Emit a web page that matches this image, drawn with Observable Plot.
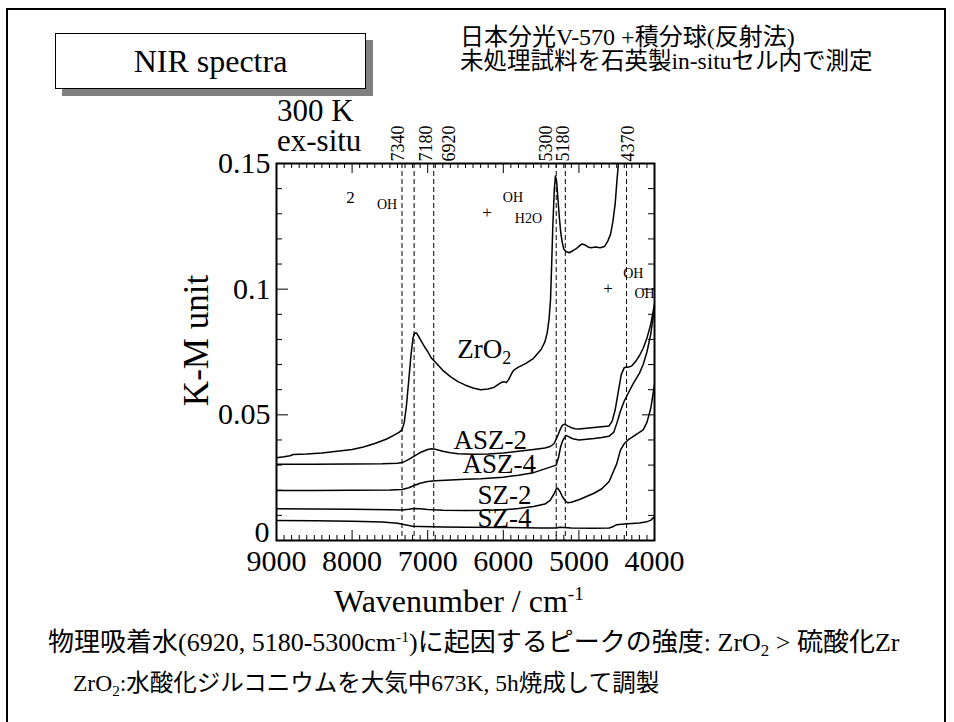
<!DOCTYPE html>
<html><head><meta charset="utf-8">
<script src="https://cdn.jsdelivr.net/npm/d3@7"></script>
<script src="https://cdn.jsdelivr.net/npm/@observablehq/plot@0.6"></script>
<style>
html,body{margin:0;padding:0;background:#fff;}
#page{position:relative;width:954px;height:722px;overflow:hidden;font-family:"Liberation Serif","Noto Sans CJK JP",serif;color:#000;}
.abs{position:absolute;white-space:nowrap;line-height:1;}
.lat{font-family:"Liberation Serif",serif;}
.sup{font-size:0.6em;position:relative;top:-0.6em;}
.sub{font-size:0.65em;position:relative;top:0.3em;}
</style></head><body>
<div id="page">
  <div style="position:absolute;left:6px;top:8px;width:936px;height:760px;border:2px solid #000;"></div>
  <div id="chart" style="position:absolute;left:0;top:0;"></div>
  <div class="abs" style="left:55px;top:33px;width:309px;height:54px;border:1px solid #000;background:#fff;box-shadow:7px 7px 0 #808080;display:flex;align-items:center;justify-content:center;font-size:32px;">NIR spectra</div>
  <div class="abs" style="left:460px;top:25px;font-size:24px;">日本分光<span class="lat">V-570 +</span>積分球<span class="lat">(</span>反射法<span class="lat">)</span></div>
  <div class="abs" style="left:460px;top:50px;font-size:23.5px;">未処理試料を石英製<span class="lat">in-situ</span>セル内で測定</div>
  <div class="abs" style="left:277px;top:95px;font-size:31px;">300 K</div>
  <div class="abs" style="left:277px;top:125px;font-size:31px;">ex-situ</div>
  <div class="abs" style="left:334px;top:585px;font-size:32px;">Wavenumber / cm<span class="sup">-1</span></div>
  <div class="abs" style="left:96px;top:323px;width:200px;text-align:center;font-size:35px;transform:rotate(-90deg);">K-M unit</div>
  <div class="abs" style="left:48px;top:630px;font-size:26px;">物理吸着水<span class="lat">(6920, 5180-5300cm<span class="sup">-1</span>)</span>に起因するピークの強度<span class="lat">: ZrO<span class="sub">2</span> &gt; </span>硫酸化<span class="lat">Zr</span></div>
  <div class="abs" style="left:73px;top:672px;font-size:23.5px;"><span class="lat">ZrO<span class="sub">2</span>:</span>水酸化ジルコニウムを大気中<span class="lat">673K, 5h</span>焼成して調製</div>
</div>
<script>
// ---- data: [wavenumber (cm-1), K-M value] ----
const zro2 = [[9000,0.0329],[8900,0.0333],[8820,0.0337],[8780,0.0342],[8600,0.0344],[8400,0.0348],[8200,0.0355],[8000,0.0362],[7850,0.0372],[7700,0.0386],[7550,0.0403],[7450,0.0418],[7380,0.0430],[7340,0.0440],[7310,0.0470],[7280,0.0540],[7250,0.0640],[7220,0.0740],[7195,0.0805],[7175,0.0825],[7150,0.0826],[7120,0.0812],[7080,0.0790],[7040,0.0770],[7000,0.0752],[6950,0.0725],[6900,0.0710],[6800,0.0677],[6700,0.0652],[6600,0.0632],[6500,0.0618],[6400,0.0607],[6300,0.0600],[6200,0.0603],[6120,0.0610],[6060,0.0622],[6020,0.0630],[5990,0.0632],[5960,0.0628],[5930,0.0640],[5880,0.0670],[5850,0.0680],[5800,0.0690],[5700,0.0705],[5600,0.0725],[5500,0.0760],[5450,0.0790],[5420,0.0825],[5395,0.0880],[5375,0.0960],[5360,0.1100],[5345,0.1250],[5325,0.1400],[5310,0.1450],[5295,0.1430],[5280,0.1370],[5260,0.1290],[5240,0.1225],[5220,0.1185],[5200,0.1160],[5170,0.1150],[5130,0.1145],[5080,0.1153],[5040,0.1160],[5000,0.1170],[4960,0.1180],[4920,0.1176],[4880,0.1168],[4840,0.1165],[4780,0.1168],[4720,0.1165],[4660,0.1170],[4620,0.1190],[4580,0.1220],[4550,0.1270],[4520,0.1340],[4500,0.1420],[4480,0.1490],[4460,0.1560],[4440,0.1650]];
const asz2 = [[9000,0.0303],[8500,0.0303],[8000,0.0304],[7600,0.0305],[7400,0.0307],[7340,0.0310],[7280,0.0318],[7200,0.0332],[7100,0.0350],[7000,0.0362],[6950,0.0365],[6900,0.0363],[6800,0.0355],[6700,0.0349],[6600,0.0345],[6400,0.0343],[6200,0.0344],[6000,0.0348],[5800,0.0355],[5600,0.0362],[5450,0.0368],[5380,0.0374],[5330,0.0385],[5290,0.0410],[5250,0.0440],[5220,0.0458],[5190,0.0463],[5150,0.0456],[5100,0.0449],[5050,0.0445],[5000,0.0444],[4900,0.0447],[4800,0.0450],[4700,0.0453],[4600,0.0456],[4560,0.0475],[4520,0.0520],[4480,0.0590],[4440,0.0660],[4400,0.0688],[4340,0.0690],[4300,0.0695],[4250,0.0712],[4200,0.0735],[4150,0.0765],[4100,0.0805],[4050,0.0860],[4000,0.0940]];
const asz4 = [[9000,0.0199],[8500,0.0199],[8000,0.0200],[7500,0.0201],[7340,0.0203],[7250,0.0210],[7180,0.0219],[7100,0.0228],[7000,0.0235],[6900,0.0238],[6700,0.0241],[6500,0.0244],[6300,0.0246],[6000,0.0252],[5800,0.0260],[5600,0.0270],[5450,0.0285],[5350,0.0295],[5300,0.0300],[5270,0.0330],[5240,0.0375],[5210,0.0400],[5170,0.0418],[5130,0.0412],[5080,0.0405],[5000,0.0400],[4900,0.0403],[4800,0.0406],[4700,0.0410],[4600,0.0415],[4540,0.0430],[4500,0.0465],[4450,0.0515],[4400,0.0555],[4350,0.0585],[4280,0.0625],[4200,0.0665],[4150,0.0700],[4100,0.0750],[4050,0.0820],[4000,0.0930]];
const sz2 = [[9000,0.0126],[8500,0.0125],[8000,0.0124],[7500,0.0122],[7340,0.0121],[7250,0.0124],[7180,0.0127],[7100,0.0126],[7000,0.0123],[6800,0.0120],[6500,0.0119],[6200,0.0120],[6000,0.0122],[5800,0.0127],[5600,0.0135],[5450,0.0145],[5380,0.0160],[5330,0.0185],[5300,0.0205],[5280,0.0208],[5250,0.0195],[5220,0.0175],[5180,0.0158],[5150,0.0150],[5100,0.0152],[5000,0.0162],[4900,0.0175],[4800,0.0188],[4700,0.0205],[4600,0.0235],[4500,0.0305],[4450,0.0360],[4400,0.0385],[4350,0.0400],[4250,0.0420],[4150,0.0440],[4100,0.0470],[4050,0.0525],[4000,0.0620]];
const sz4 = [[9000,0.0080],[8500,0.0079],[8000,0.0077],[7600,0.0074],[7400,0.0069],[7300,0.0063],[7200,0.0057],[7100,0.0056],[6800,0.0054],[6500,0.0053],[6000,0.0052],[5500,0.0050],[5300,0.0050],[5250,0.0053],[5200,0.0052],[5100,0.0050],[4800,0.0049],[4600,0.0050],[4550,0.0055],[4500,0.0063],[4400,0.0066],[4300,0.0068],[4200,0.0070],[4100,0.0075],[4050,0.0080],[4000,0.0095]];

const seriesNames = ["ZrO2", "ASZ-2", "ASZ-4", "SZ-2", "SZ-4"];
const seriesData = [zro2, asz2, asz4, sz2, sz4];

// curve labels: text, anchor wavenumber, anchor K-M value (baseline, left)
const curveLabelText = ["ZrO", "ASZ-2", "ASZ-4", "SZ-2", "SZ-4"];
const curveLabelWn = [6610, 6659, 6540, 6341, 6341];
const curveLabelVal = [0.0728, 0.0366, 0.0267, 0.0147, 0.0052];

// peak positions (dashed lines)
const peakLines = [7340, 7180, 6920, 5300, 5180, 4370];

// band annotations
const annText = ["2", "OH", "+", "OH", "H2O", "OH", "+", "OH"];
const annWn = [8021, 7538, 6216, 5872, 5667, 4280, 4615, 4265];
const annVal = [0.1341, 0.1317, 0.1305, 0.1345, 0.1265, 0.1046, 0.1003, 0.0963];

const xTickLabels = [9000, 8000, 7000, 6000, 5000, 4000];
const yTickLabels = [0, 0.05, 0.1, 0.15];

// ---- layout ----
const W = 954, H = 640;
const mL = 276, mR = 300, mT = 163, mB = 100;
const FW = W - mL - mR, FH = H - mT - mB;

const rows = seriesData.flatMap((s, i) => s.map(([wn, km]) => ({series: seriesNames[i], wn, km})));
const xMinor = d3.range(0, 51).map(i => 9000 - i * 100).filter(v => v % 1000 !== 0);
const yAll = d3.range(0, 16).map(i => i / 100);
const yMinor = yAll.filter((v, i) => i % 5 !== 0);
const yMajor = yAll.filter((v, i) => i % 5 === 0);

const annSize = [17, 14, 17, 14, 14, 14, 17, 14];
const annMarks = annText.map((t, i) => Plot.text([i], {
  x: j => annWn[j], y: j => annVal[j], text: () => t,
  textAnchor: i === 7 ? "start" : "middle",
  lineAnchor: t === "+" ? "middle" : "bottom",
  fontSize: annSize[i]
}));

const peakLabelNudge = [2, 18, 21, -4, 4, 7];
const peakLabelMarks = peakLines.map((v, i) => Plot.text([v], {
  x: d => d, text: d => String(d), frameAnchor: "top", rotate: -90,
  textAnchor: "start", lineAnchor: "bottom", dy: -2, dx: peakLabelNudge[i], fontSize: 18
}));

const chart = Plot.plot({
  width: W, height: H,
  marginLeft: mL, marginRight: mR, marginTop: mT, marginBottom: mB,
  style: {fontFamily: "Liberation Serif", background: "transparent", color: "#000", overflow: "visible"},
  x: {domain: [9000, 4000], axis: null},
  y: {domain: [0, 0.15], axis: null},
  marks: [
    Plot.ruleX(peakLines, {x: d => d, stroke: "#000", strokeWidth: 1, strokeDasharray: "5,3"}),
    Plot.line(rows, {x: "wn", y: "km", z: "series", stroke: "#000", strokeWidth: 1.5, clip: true}),
    // inner ticks, bottom/top
    Plot.tickX(xMinor, {x: d => d, insetTop: FH - 5, stroke: "#000"}),
    Plot.tickX(xTickLabels, {x: d => d, insetTop: FH - 10, stroke: "#000"}),
    Plot.tickX(xMinor, {x: d => d, insetBottom: FH - 5, stroke: "#000"}),
    Plot.tickX(xTickLabels, {x: d => d, insetBottom: FH - 10, stroke: "#000"}),
    // inner ticks, left/right
    Plot.tickY(yMinor, {y: d => d, insetRight: FW - 6, stroke: "#000"}),
    Plot.tickY(yMajor, {y: d => d, insetRight: FW - 12, stroke: "#000"}),
    Plot.tickY(yMinor, {y: d => d, insetLeft: FW - 6, stroke: "#000"}),
    Plot.tickY(yMajor, {y: d => d, insetLeft: FW - 12, stroke: "#000"}),
    Plot.frame({stroke: "#000", strokeWidth: 2}),
    // tick labels
    Plot.text(xTickLabels, {x: d => d, text: d => String(d), frameAnchor: "bottom", lineAnchor: "top", dy: 9, fontSize: 30}),
    Plot.text(yTickLabels.filter(d => d > 0), {y: d => d, text: d => String(d), frameAnchor: "left", textAnchor: "end", dx: -6, fontSize: 30}),
    Plot.text(yTickLabels.filter(d => d === 0), {y: d => d, text: d => String(d), frameAnchor: "left", textAnchor: "end", dx: -7, dy: -8, fontSize: 30}),
    ...peakLabelMarks,
    // curve labels
    Plot.text(d3.range(curveLabelText.length), {x: i => curveLabelWn[i], y: i => curveLabelVal[i], text: i => curveLabelText[i], textAnchor: "start", lineAnchor: "bottom", fontSize: 27}),
    Plot.text([0], {x: i => curveLabelWn[i], y: i => curveLabelVal[i], text: () => "2", textAnchor: "start", lineAnchor: "bottom", dx: 45, dy: 6, fontSize: 18}),
    ...annMarks
  ]
});
document.getElementById("chart").appendChild(chart);
</script>
</body></html>
